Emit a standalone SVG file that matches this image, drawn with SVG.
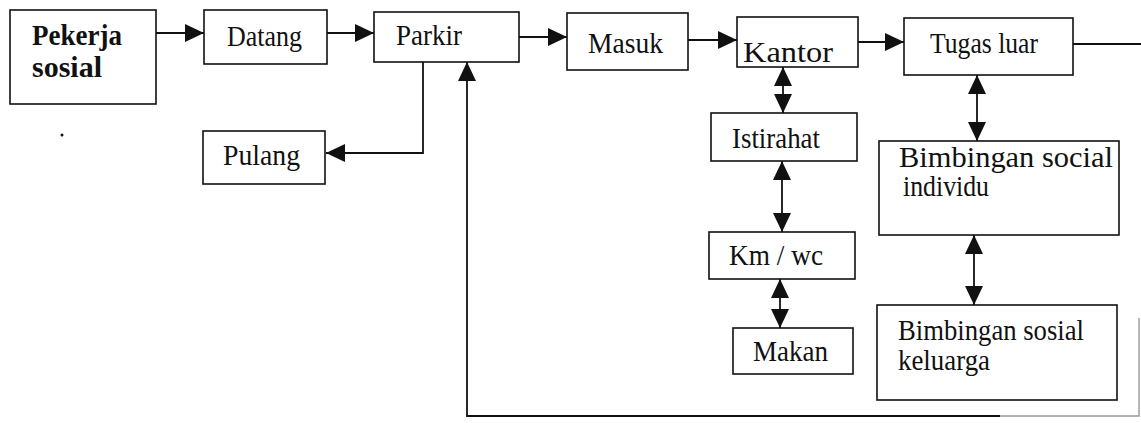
<svg xmlns="http://www.w3.org/2000/svg" width="1141" height="423" viewBox="0 0 1141 423">
<style>
.box{fill:#fff;stroke:#111;stroke-width:1.6}
text{font-family:'Liberation Serif','DejaVu Serif','Times New Roman',serif;font-size:29px;fill:#111}
.b{font-weight:bold}
.c{fill:none;stroke:#111;stroke-width:1.8}
.g{fill:none;stroke:#999;stroke-width:1.4}
</style>
<defs>
<marker id="ah" markerUnits="userSpaceOnUse" markerWidth="20" markerHeight="18" refX="19" refY="9" orient="auto-start-reverse" viewBox="0 0 20 18">
<path d="M0,0 L19,9 L0,18 Z" fill="#111"/>
</marker>
</defs>
<rect width="1141" height="423" fill="#fff"/>
<g id="connectors">
<line class="c" x1="156" y1="33" x2="204" y2="33" marker-end="url(#ah)"/>
<line class="c" x1="327" y1="33" x2="374" y2="33" marker-end="url(#ah)"/>
<line class="c" x1="519" y1="37" x2="567" y2="37" marker-end="url(#ah)"/>
<line class="c" x1="688" y1="40" x2="737" y2="40" marker-end="url(#ah)"/>
<line class="c" x1="858" y1="42" x2="904" y2="42" marker-end="url(#ah)"/>
<line class="c" x1="1073" y1="44" x2="1141" y2="44"/>
<line class="c" x1="783" y1="67" x2="783" y2="113" marker-start="url(#ah)" marker-end="url(#ah)"/>
<line class="c" x1="782" y1="161" x2="782" y2="232" marker-start="url(#ah)" marker-end="url(#ah)"/>
<line class="c" x1="780" y1="279" x2="780" y2="328" marker-start="url(#ah)" marker-end="url(#ah)"/>
<line class="c" x1="977" y1="75" x2="977" y2="141" marker-start="url(#ah)" marker-end="url(#ah)"/>
<line class="c" x1="974" y1="235" x2="974" y2="305" marker-start="url(#ah)" marker-end="url(#ah)"/>
<path class="c" d="M423,62 V153 H326" marker-end="url(#ah)"/>
<path class="c" d="M1000,416 H467 V62" marker-end="url(#ah)"/>
<path class="g" d="M1139,318 V416 H1000"/>
</g>
<g id="pekerja"><rect class="box" x="10" y="10" width="146" height="94"/>
<text class="b" x="32" y="45" textLength="90" lengthAdjust="spacingAndGlyphs">Pekerja</text>
<text class="b" x="32" y="77" textLength="70" lengthAdjust="spacingAndGlyphs">sosial</text></g>
<g id="datang"><rect class="box" x="204" y="10" width="123" height="54"/><text x="227" y="46" textLength="75" lengthAdjust="spacingAndGlyphs">Datang</text></g>
<g id="parkir"><rect class="box" x="374" y="12" width="145" height="50"/><text x="396" y="45" textLength="66" lengthAdjust="spacingAndGlyphs">Parkir</text></g>
<g id="masuk"><rect class="box" x="567" y="13" width="121" height="57"/><text x="588" y="53" textLength="75" lengthAdjust="spacingAndGlyphs">Masuk</text></g>
<g id="kantor"><rect class="box" x="737" y="17" width="121" height="50"/><text x="743" y="62" textLength="90" lengthAdjust="spacingAndGlyphs">Kantor</text></g>
<g id="tugas"><rect class="box" x="904" y="18" width="169" height="57"/><text x="930" y="53" textLength="108" lengthAdjust="spacingAndGlyphs">Tugas luar</text></g>
<g id="pulang"><rect class="box" x="203" y="131" width="122" height="53"/><text x="223" y="165" textLength="77" lengthAdjust="spacingAndGlyphs">Pulang</text></g>
<g id="istirahat"><rect class="box" x="711" y="113" width="146" height="48"/><text x="732" y="148" textLength="88" lengthAdjust="spacingAndGlyphs">Istirahat</text></g>
<g id="kmwc"><rect class="box" x="709" y="232" width="146" height="47"/><text x="729" y="265" textLength="94" lengthAdjust="spacingAndGlyphs">Km / wc</text></g>
<g id="makan"><rect class="box" x="733" y="328" width="120" height="46"/><text x="753" y="361" textLength="75" lengthAdjust="spacingAndGlyphs">Makan</text></g>
<g id="bimbingan-individu"><rect class="box" x="879" y="141" width="240" height="94"/>
<text x="899" y="167" textLength="214" lengthAdjust="spacingAndGlyphs">Bimbingan social</text>
<text x="903" y="196" textLength="86" lengthAdjust="spacingAndGlyphs">individu</text></g>
<g id="bimbingan-keluarga"><rect class="box" x="877" y="305" width="240" height="95"/>
<text x="898" y="340" textLength="186" lengthAdjust="spacingAndGlyphs">Bimbingan sosial</text>
<text x="898" y="370" textLength="92" lengthAdjust="spacingAndGlyphs">keluarga</text></g>
<circle cx="62" cy="135" r="1.5" fill="#111"/>
</svg>
